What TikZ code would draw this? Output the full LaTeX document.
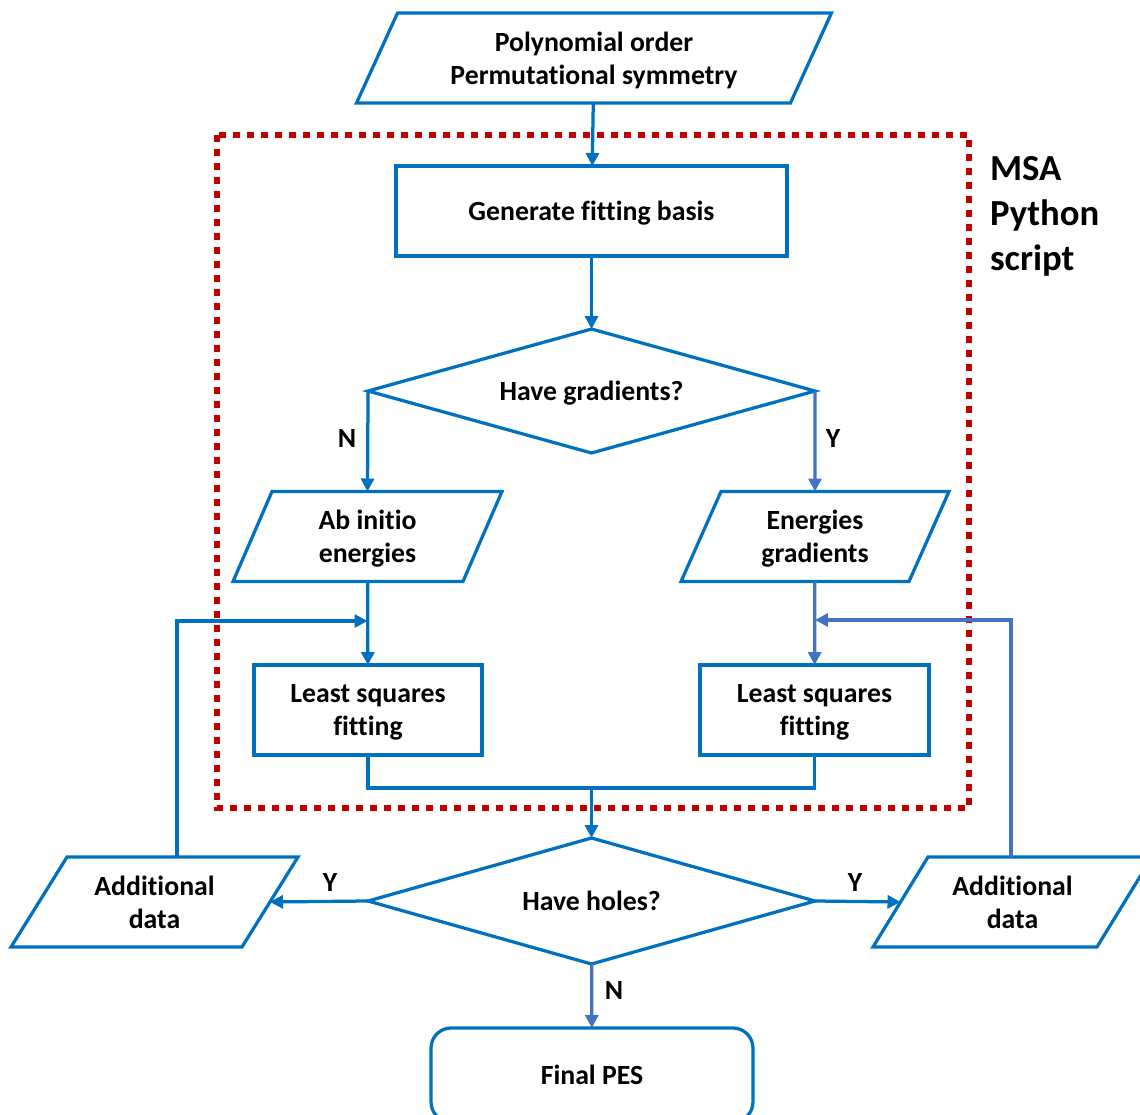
\documentclass[tikz,border=0pt]{standalone}
\usepackage{fontspec}
\setmainfont[Ligatures=NoCommon]{Carlito}
\usetikzlibrary{shapes.geometric,arrows.meta}
\definecolor{flowblue}{HTML}{0070C0}
\definecolor{paleblue}{HTML}{4472C4}
\definecolor{msared}{HTML}{C00000}
\newcommand{\slantbox}[2]{%
  \draw[flowblue,line width=0.065cm]
    ([xshift=#2/2]#1.north west) -- ([xshift=#2/2]#1.north east)
    -- ([xshift=-#2/2]#1.south east) -- ([xshift=-#2/2]#1.south west) -- cycle;}
\begin{document}
\begin{tikzpicture}[x=0.02cm,y=-0.02cm,
    every node/.style={font=\fontsize{15.8}{18.8}\selectfont\bfseries,align=center,
      inner sep=0pt,outer sep=0pt,text depth=0pt},
    flow/.style={flowblue,line width=0.065cm},
    arrow/.style={flow,-{Triangle[length=0.26cm,width=0.26cm]}},
    box/.style={draw=flowblue,line width=0.065cm,minimum height=1.8cm},
    io/.style={minimum height=1.8cm},
    choice/.style={diamond,draw=flowblue,line width=0.065cm,minimum width=8.94cm,shape aspect=3.6}]
  \useasboundingbox (0,0) rectangle (1140,1115);
  \draw[msared,line width=0.12cm,dash pattern=on 0.14cm off 0.14cm] (217,135) rectangle (969,808);
  \node[font=\fontsize{20.9}{25.6}\selectfont\bfseries,align=left,anchor=west] (msa) at (990,213) {MSA\\Python\\script};

  \node[io,minimum width=8.68cm] (input) at (594,58) {Polynomial order\\Permutational symmetry};
  \node[box,minimum width=7.82cm] (gen) at (591.5,211) {Generate fitting basis};
  \node[choice,minimum height=2.48cm] (grad) at (591.5,391) {Have gradients?};
  \node[io,minimum width=4.6cm] (abinit) at (367.5,536.5) {Ab initio\\energies};
  \node[io,minimum width=4.56cm] (engrad) at (815,536.5) {Energies\\gradients};
  \node[box,minimum width=4.56cm] (lsq1) at (368,710) {Least squares\\fitting};
  \node[box,minimum width=4.58cm] (lsq2) at (814.5,710) {Least squares\\fitting};
  \node[choice,minimum height=2.52cm] (holes) at (591.5,901) {Have holes?};
  \node[io,minimum width=4.62cm] (add1) at (154.5,902) {Additional\\data};
  \node[io,minimum width=4.48cm] (add2) at (1012.5,902) {Additional\\data};
  \node[box,rounded corners=0.4cm,minimum width=6.44cm,minimum height=1.88cm] (final) at (592,1075) {Final PES};
  \foreach \n/\s in {input/0.82cm,abinit/0.78cm,engrad/0.8cm,add1/1.12cm,add2/1.1cm}
    \slantbox{\n}{\s};

  \foreach \x/\y/\t [count=\i] in {347/438/N,833/438/Y,330/882/Y,855/882/Y,614/990/N}
    \node (mark\i) at (\x,\y) {\t};

  \coordinate (join) at (591.5,788);
  \coordinate (back1) at (177,621);
  \coordinate (back2) at (1011,620);
  \draw[arrow] (input) -- (gen);
  \draw[arrow] (gen) -- (grad);
  \draw[arrow] (grad.west) -- (abinit.north);
  \draw[arrow,paleblue] (grad.east) -- (engrad.north);
  \draw[arrow] (abinit) -- (lsq1);
  \draw[arrow,paleblue] (engrad) -- (lsq2);
  \draw[flow] (lsq1.south) |- (join) -| (lsq2.south);
  \draw[arrow] (join) -- (holes);
  \draw[arrow] (holes.west) -- (add1.east);
  \draw[arrow] (holes.east) -- (add2.west);
  \draw[arrow,paleblue] (holes) -- (final);
  \draw[arrow] (add1.north -| back1) -- (back1) -- (back1 -| abinit.south);
  \draw[arrow,paleblue] (add2.north -| back2) -- (back2) -- (back2 -| engrad.south);
\end{tikzpicture}
\end{document}
